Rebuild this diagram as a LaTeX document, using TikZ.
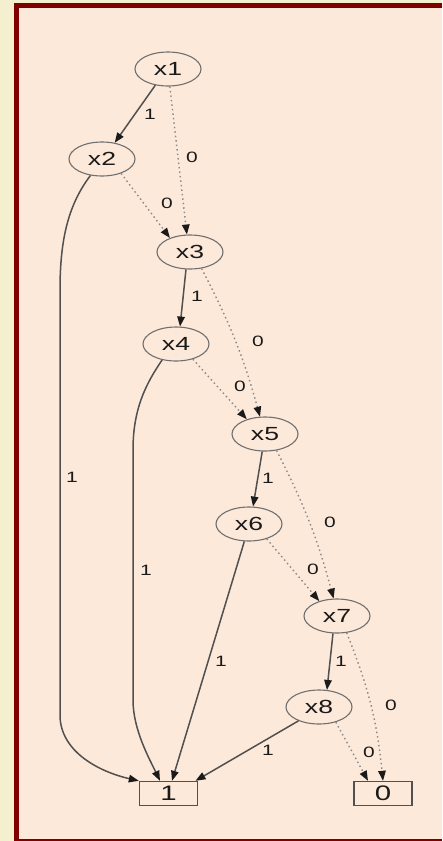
\documentclass[tikz,border=0pt]{standalone}
\usepackage{fontspec}
\setmainfont{Liberation Sans}
\usepackage{graphicx}
\usetikzlibrary{shapes.geometric,arrows.meta}
\definecolor{outerbg}{HTML}{F4F0CF}
\definecolor{framered}{HTML}{800000}
\definecolor{innerbg}{HTML}{FDE9DA}
\definecolor{edgegray}{HTML}{505050}
\definecolor{dotgray}{HTML}{8A8A8A}
\definecolor{ellgray}{HTML}{707070}
\definecolor{txt}{HTML}{1A1A1A}
\newcommand{\hstretch}[1]{\scalebox{1.4}[1]{#1}}
\begin{document}
\begin{tikzpicture}[x=1pt,y=1pt,
  var/.style={ellipse, draw=ellgray, line width=1.1pt, minimum width=66pt, minimum height=34pt, inner sep=0pt, text=txt, font=\fontsize{19}{19}\selectfont},
  term/.style={rectangle, draw=edgegray, line width=1.4pt, minimum width=58pt, minimum height=24pt, inner sep=0pt, text=txt, font=\fontsize{21}{21}\selectfont},
  lbl/.style={inner sep=0pt, text=txt, font=\fontsize{15}{15}\selectfont},
  hi/.style={draw=edgegray, line width=1.5pt, -{Triangle[length=10pt,width=7.5pt,color=txt]}},
  lo/.style={draw=dotgray, line width=1.4pt, dash pattern=on 1.5pt off 3pt, -{Triangle[length=10pt,width=7.5pt,color=txt]}},
]
\useasboundingbox (0,0) rectangle (442,-841);
\fill[outerbg] (0,0) rectangle (442,-841);
\fill[framered] (14,-3) rectangle (442,-841);
\fill[innerbg] (19,-8) rectangle (442,-839);

\node[var] (x1) at (168,-69) {\hstretch{x1}};
\node[var] (x2) at (102,-159) {\hstretch{x2}};
\node[var] (x3) at (190,-252) {\hstretch{x3}};
\node[var] (x4) at (176,-344) {\hstretch{x4}};
\node[var] (x5) at (265,-434) {\hstretch{x5}};
\node[var] (x6) at (249,-524) {\hstretch{x6}};
\node[var] (x7) at (337,-616) {\hstretch{x7}};
\node[var] (x8) at (319,-707) {\hstretch{x8}};
\node[term] (b1) at (168.5,-793.5) {\hstretch{1}};
\node[term] (b0) at (383,-793.5) {\hstretch{0}};

% high (1) edges
\draw[hi] (x1.232) -- (x2.52);
\draw[hi] (x3.257) -- (x4.77);
\draw[hi] (x5.261) -- (x6.77);
\draw[hi] (x7.257) -- (x8.65);
\draw[hi] (x2.235) .. controls (68,-205) and (60,-240) .. (60,-290) -- (60,-715) .. controls (60,-752) and (100,-772) .. (b1.north west);
\draw[hi] (x4.229) .. controls (145,-385) and (133,-410) .. (133,-450) -- (133,-700) .. controls (133,-730) and (150,-760) .. ([xshift=-8.5pt]b1.north);
\draw[hi] (x6.255) -- ([xshift=3.5pt]b1.north);
\draw[hi] (x8.214) -- ([xshift=27pt]b1.north);

% low (0) edges
\draw[lo] (x1.276) -- (x3.100);
\draw[lo] (x2.323) -- (x3.145);
\draw[lo] (x3.305) to[bend left=6] (x5.106);
\draw[lo] (x4.318) -- (x5.141);
\draw[lo] (x5.305) to[bend left=6] (x7.101);
\draw[lo] (x6.320) -- (x7.140);
\draw[lo] (x7.300) to[bend left=8] (b0.north);
\draw[lo] (x8.318) -- ([xshift=-15pt]b0.north);

% labels
\node[lbl] (l1) at (150,-114) {\hstretch{1}};
\node[lbl] (l2) at (192,-157) {\hstretch{0}};
\node[lbl] (l3) at (167,-203) {\hstretch{0}};
\node[lbl] (l4) at (72,-477) {\hstretch{1}};
\node[lbl] (l5) at (197,-296) {\hstretch{1}};
\node[lbl] (l6) at (258,-341) {\hstretch{0}};
\node[lbl] (l7) at (240,-386) {\hstretch{0}};
\node[lbl] (l8) at (146,-570) {\hstretch{1}};
\node[lbl] (l9) at (268,-478) {\hstretch{1}};
\node[lbl] (l10) at (330,-522) {\hstretch{0}};
\node[lbl] (l11) at (313,-569) {\hstretch{0}};
\node[lbl] (l12) at (221,-661) {\hstretch{1}};
\node[lbl] (l13) at (341,-661) {\hstretch{1}};
\node[lbl] (l14) at (391,-705) {\hstretch{0}};
\node[lbl] (l15) at (369,-752) {\hstretch{0}};
\node[lbl] (l16) at (268,-750) {\hstretch{1}};
\end{tikzpicture}
\end{document}
